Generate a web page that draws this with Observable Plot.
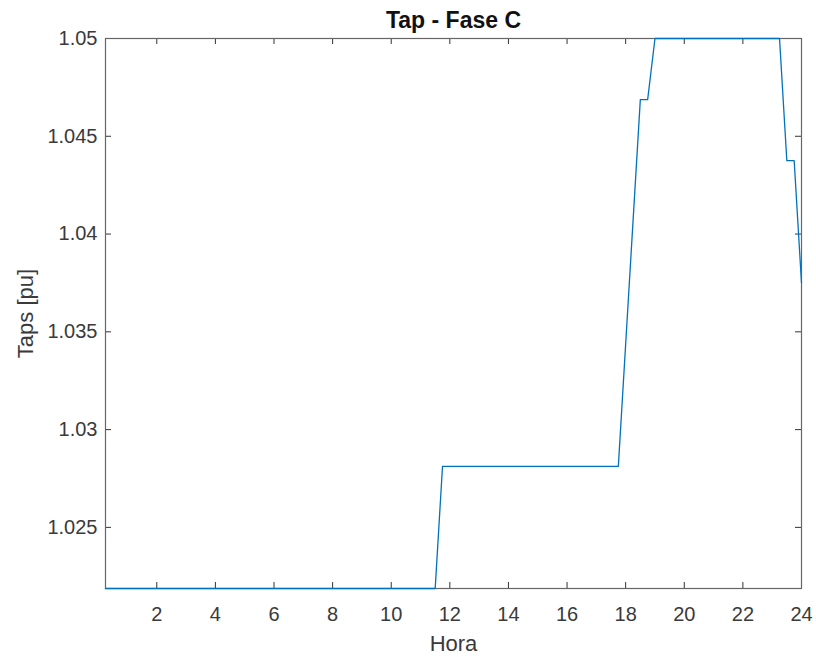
<!DOCTYPE html>
<html>
<head>
<meta charset="utf-8">
<script src="https://cdn.jsdelivr.net/npm/d3@7"></script>
<script src="https://cdn.jsdelivr.net/npm/@observablehq/plot@0.6"></script>
<style>
  body { margin: 0; background: #fff; }
</style>
</head>
<body>
<div id="chart"></div>
<script>
// Tap position of phase C regulator over the day (vertices of the step profile, 15-min resolution)
const hours = [0.25, 11.5, 11.75, 17.75, 18.5, 18.75, 19, 23.25, 23.5, 23.75, 24];
const taps  = [1.021875, 1.021875, 1.028125, 1.028125, 1.046875, 1.046875, 1.05, 1.05, 1.04375, 1.04375, 1.0375];

const xTicks = [2, 4, 6, 8, 10, 12, 14, 16, 18, 20, 22, 24];
const yTicks = [1.025, 1.03, 1.035, 1.04, 1.045, 1.05];

const titleText = "Tap - Fase C";
const xLabel = "Hora";
const yLabel = "Taps [pu]";

const W = 816, H = 657;
const mL = 105, mR = 15, mT = 38, mB = 69;
const innerW = W - mL - mR, innerH = H - mT - mB;
const tickLen = 6;
const font = "'Liberation Sans', Arial, Helvetica, sans-serif";
const textColor = "#3a3a3a";

const series = hours.map((h, i) => ({hora: h, tap: taps[i]}));

const chart = Plot.plot({
  width: W,
  height: H,
  marginLeft: mL,
  marginRight: mR,
  marginTop: mT,
  marginBottom: mB,
  style: {fontFamily: font, background: "#fff", overflow: "visible"},
  x: {domain: [0.25, 24]},
  y: {domain: [1.021875, 1.05]},
  marks: [
    // tick labels
    Plot.axisX(xTicks, {tickSize: 0, tickPadding: 18, fontSize: 20, fill: textColor, label: null}),
    Plot.axisY(yTicks, {tickSize: 0, tickPadding: 8, fontSize: 20, fill: textColor, label: null,
                        tickFormat: d => `${+d.toFixed(3)}`}),
    // inward ticks on all four sides
    Plot.tickX(xTicks, {x: d => d, insetTop: innerH - tickLen, stroke: "#333"}),
    Plot.tickX(xTicks, {x: d => d, insetBottom: innerH - tickLen, stroke: "#333"}),
    Plot.tickY(yTicks, {y: d => d, insetRight: innerW - tickLen, stroke: "#333"}),
    Plot.tickY(yTicks, {y: d => d, insetLeft: innerW - tickLen, stroke: "#333"}),
    // box
    Plot.frame({stroke: "#666", strokeWidth: 1.2}),
    // tap profile
    Plot.line(series, {x: "hora", y: "tap", stroke: "#0072BD", strokeWidth: 1.3}),
    // title and axis labels
    Plot.text([titleText], {text: d => d, frameAnchor: "top", dy: -11, lineAnchor: "bottom",
                            fontSize: 23, fontWeight: "bold", fill: "#111"}),
    Plot.text([xLabel], {text: d => d, frameAnchor: "bottom", dy: 62, lineAnchor: "bottom",
                         fontSize: 22, fill: textColor}),
    Plot.text([yLabel], {text: d => d, frameAnchor: "left", textAnchor: "middle", dx: -80, rotate: -90,
                         fontSize: 22, fill: textColor})
  ]
});

document.getElementById("chart").appendChild(chart);
</script>
</body>
</html>
